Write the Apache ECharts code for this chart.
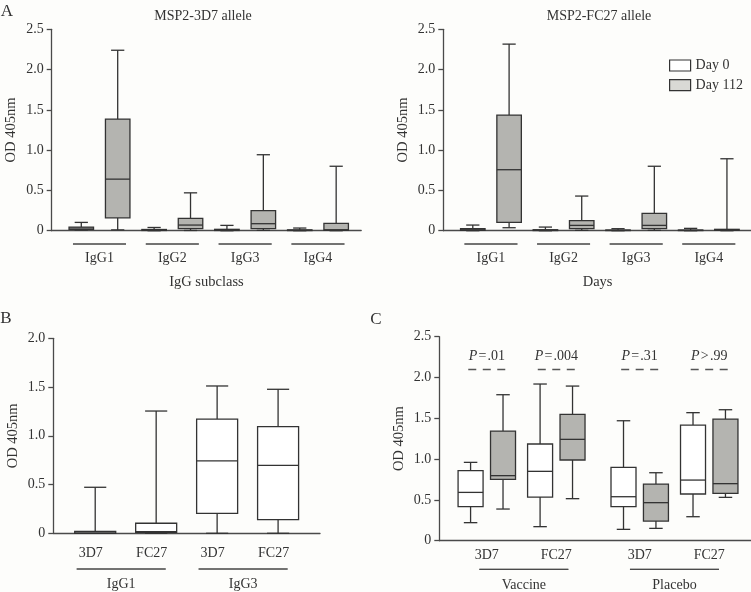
<!DOCTYPE html>
<html>
<head>
<meta charset="utf-8">
<script src="https://cdn.jsdelivr.net/npm/echarts@6/dist/echarts.min.js"></script>
<style>html,body{margin:0;padding:0;background:#fdfdfb;}#c{width:751px;height:592px;}</style>
</head>
<body>
<div id="c"></div>
<script>
// ---------------- DATA (each box: [min, Q1, median, Q3, max]) ----------------
const igGroups = ['IgG1', 'IgG2', 'IgG3', 'IgG4'];
const yTicksA = [0, 0.5, 1.0, 1.5, 2.0, 2.5];
const a3d7Day0 = [[0.008, 0.017, 0.033, 0.045, 0.103], [0, 0.003, 0.008, 0.015, 0.04], [0, 0.003, 0.01, 0.017, 0.066], [0, 0.002, 0.005, 0.01, 0.033]];
const a3d7Day112 = [[0.01, 0.16, 0.64, 1.385, 2.24], [0.003, 0.025, 0.07, 0.153, 0.47], [0.004, 0.025, 0.087, 0.248, 0.943], [0, 0.004, 0.012, 0.09, 0.80]];
const aFc27Day0 = [[0, 0.004, 0.012, 0.025, 0.07], [0, 0.002, 0.006, 0.012, 0.045], [0, 0.002, 0.004, 0.008, 0.025], [0, 0.002, 0.004, 0.008, 0.029]];
const aFc27Day112 = [[0.037, 0.103, 0.757, 1.435, 2.316], [0.004, 0.025, 0.066, 0.124, 0.43], [0.004, 0.025, 0.066, 0.215, 0.80], [0, 0.004, 0.012, 0.017, 0.893]];

const bAlleles = ['3D7', 'FC27', '3D7', 'FC27'];
const bSubclasses = ['IgG1', 'IgG3'];
const bValues = [[0, 0, 0.005, 0.02, 0.472], [0, 0.01, 0.016, 0.103, 1.254], [0, 0.205, 0.742, 1.172, 1.511], [0, 0.14, 0.697, 1.094, 1.477]];

const cAlleles = ['3D7', 'FC27', '3D7', 'FC27'];
const cGroups = ['Vaccine', 'Placebo'];
const cDay0 = [[0.221, 0.417, 0.592, 0.858, 0.96], [0.172, 0.535, 0.85, 1.185, 1.92], [0.139, 0.417, 0.539, 0.899, 1.47], [0.294, 0.572, 0.743, 1.417, 1.569]];
const cDay112 = [[0.388, 0.752, 0.797, 1.344, 1.789], [0.515, 0.989, 1.242, 1.548, 1.895], [0.151, 0.241, 0.466, 0.694, 0.833], [0.531, 0.58, 0.699, 1.491, 1.605]];
const cPRelation = ['=', '=', '=', '>'];
const cPValue = ['.01', '.004', '.31', '.99'];
const cPLevel = 2.1;

const seriesNames = ['Day 0', 'Day 112'];

// ---------------- LAYOUT (slot positions on fine category axes) ----------------
const FONT = '"Liberation Serif", "Times New Roman", serif';
const TXT = '#333';
const AX = '#4a4a4a';
const STROKE = '#333';
const GREY = '#b4b4b0';
const LEGEND_GREY = '#d9d9d5';

const layA = { n: 68, day0: [6, 22, 38, 54], day112: [14, 30, 46, 62], groups: [10, 26, 42, 58] };
const layB = { n: 35, boxes: [5, 13, 21, 29], groups: [9, 25] };
const layC = { n: 135, day0: [13, 43, 79, 109], day112: [27, 57, 93, 123], subs: [20, 50, 86, 116], groups: [36, 101] };

function slotNames(n) { const a = []; for (let i = 0; i < n; i++) a.push(String(i)); return a; }
function toItems(vals, slots) { return vals.map((v, i) => [slots[i]].concat(v)); }

function boxRenderer(boxW, fill) {
  return function (params, api) {
    const x = api.value(0);
    const p = [1, 2, 3, 4, 5].map(i => api.coord([x, api.value(i)]));
    const cx = p[0][0];
    const half = boxW / 2, capHalf = boxW * 0.27;
    const st = { stroke: STROKE, lineWidth: 1.3, fill: null };
    return {
      type: 'group', children: [
        { type: 'line', shape: { x1: cx, y1: p[0][1], x2: cx, y2: p[1][1] }, style: st },
        { type: 'line', shape: { x1: cx, y1: p[3][1], x2: cx, y2: p[4][1] }, style: st },
        { type: 'line', shape: { x1: cx - capHalf, y1: p[0][1], x2: cx + capHalf, y2: p[0][1] }, style: st },
        { type: 'line', shape: { x1: cx - capHalf, y1: p[4][1], x2: cx + capHalf, y2: p[4][1] }, style: st },
        { type: 'rect', shape: { x: cx - half, y: p[3][1], width: boxW, height: p[1][1] - p[3][1] }, style: { fill: fill, stroke: STROKE, lineWidth: 1.3 } },
        { type: 'line', shape: { x1: cx - half, y1: p[2][1], x2: cx + half, y2: p[2][1] }, style: st }
      ]
    };
  };
}

function yAxisCfg(gridIndex, max) {
  return {
    type: 'value', gridIndex: gridIndex, min: 0, max: max, interval: 0.5,
    name: 'OD 405nm', nameLocation: 'middle', nameGap: 33,
    nameTextStyle: { fontFamily: FONT, fontSize: 14.5, color: TXT },
    splitLine: { show: false },
    axisLine: { show: true, lineStyle: { color: AX, width: 1.3 } },
    axisTick: { show: true, length: 5, lineStyle: { color: AX, width: 1.3 } },
    axisLabel: { margin: 8, fontFamily: FONT, fontSize: 14, color: TXT, formatter: v => v === 0 ? '0' : v.toFixed(1) }
  };
}

function xAxisCfg(gridIndex, n, labelMap, rich, margin, name, extra) {
  const cfg = {
    type: 'category', gridIndex: gridIndex, data: slotNames(n), boundaryGap: true,
    axisTick: { show: false },
    axisLine: { show: true, lineStyle: { color: AX, width: 1.3 } },
    splitLine: { show: false },
    axisLabel: Object.assign({ interval: 0, margin: margin, fontFamily: FONT, fontSize: 14, color: TXT, rich: rich,
      formatter: (v, i) => labelMap[i] || '' }, extra || {})
  };
  if (name) {
    cfg.name = name; cfg.nameLocation = 'middle'; cfg.nameGap = 44;
    cfg.nameTextStyle = { fontFamily: FONT, fontSize: 14.5, color: TXT };
  }
  return cfg;
}

// Label maps
const richA = {
  hr: { width: 53, height: 0, lineHeight: 4, borderColor: '#444', borderWidth: 1 },
  g: { fontFamily: FONT, fontSize: 14, color: TXT, lineHeight: 25.4 }
};
const labelsA = {};
layA.groups.forEach((s, i) => { labelsA[s] = '{hr|}\n{g|' + igGroups[i] + '}'; });

const richB = {
  s: { fontFamily: FONT, fontSize: 14, color: TXT, lineHeight: 16 },
  hr: { width: 89, height: 0, lineHeight: 15.4, borderColor: '#444', borderWidth: 1 },
  g: { fontFamily: FONT, fontSize: 14, color: TXT, lineHeight: 14.6 }
};
const labelsB = {};
layB.boxes.forEach((s, i) => { labelsB[s] = '{s|' + bAlleles[i] + '}'; });
layB.groups.forEach((s, i) => { labelsB[s] = '{s| }\n{hr|}\n{g|' + bSubclasses[i] + '}'; });

const richC = {
  s: { fontFamily: FONT, fontSize: 14, color: TXT, lineHeight: 16 },
  hr: { width: 89, height: 0, lineHeight: 12.6, borderColor: '#444', borderWidth: 1 },
  g: { fontFamily: FONT, fontSize: 14, color: TXT, lineHeight: 18.8 }
};
const labelsC = {};
layC.subs.forEach((s, i) => { labelsC[s] = '{s|' + cAlleles[i] + '}'; });
layC.groups.forEach((s, i) => { labelsC[s] = '{s| }\n{hr|}\n{g|' + cGroups[i] + '}'; });

// P-value marklines
const pLines = layC.subs.map((s, i) => [
  { coord: [s - 8, cPLevel], label: { formatter: '{i|P}\u200a' + cPRelation[i] + '\u200a' + cPValue[i] } },
  { coord: [s + 8, cPLevel] }
]);

const chart = echarts.init(document.getElementById('c'), null, { renderer: 'canvas' });
chart.setOption({
  backgroundColor: '#fdfdfb',
  animation: false,
  grid: [
    { left: 51.7, top: 29.3, width: 309.5, height: 201.4, outerBoundsMode: 'none' },
    { left: 443.3, top: 29.3, width: 308.6, height: 201.4, outerBoundsMode: 'none' },
    { left: 53.3, top: 338.3, width: 266.7, height: 195, outerBoundsMode: 'none' },
    { left: 439.3, top: 336.7, width: 312.8, height: 204, outerBoundsMode: 'none' }
  ],
  xAxis: [
    xAxisCfg(0, layA.n, labelsA, richA, 11.3, 'IgG subclass'),
    xAxisCfg(1, layA.n, labelsA, richA, 11.3, 'Days'),
    xAxisCfg(2, layB.n, labelsB, richB, 12, null, { padding: [0, 9, 0, 0] }),
    xAxisCfg(3, layC.n, labelsC, richC, 6.3, null)
  ],
  yAxis: [yAxisCfg(0, 2.5), yAxisCfg(1, 2.5), yAxisCfg(2, 2.0), yAxisCfg(3, 2.5)],
  legend: {
    orient: 'vertical', left: 669, top: 58.5, padding: 0, itemWidth: 21, itemHeight: 11, itemGap: 5.7,
    textStyle: { fontFamily: FONT, fontSize: 14, color: TXT, lineHeight: 14 },
    data: [
      { name: seriesNames[0], icon: 'rect', itemStyle: { color: '#fff', borderColor: STROKE, borderWidth: 1.2 } },
      { name: seriesNames[1], icon: 'rect', itemStyle: { color: LEGEND_GREY, borderColor: STROKE, borderWidth: 1.2 } }
    ],
    selectedMode: false
  },
  graphic: [
    { type: 'text', x: 7, y: 12, style: { text: 'A', fontFamily: FONT, fontSize: 17, fill: TXT, align: 'center', verticalAlign: 'middle' } },
    { type: 'text', x: 6, y: 319, style: { text: 'B', fontFamily: FONT, fontSize: 17, fill: TXT, align: 'center', verticalAlign: 'middle' } },
    { type: 'text', x: 376, y: 319.5, style: { text: 'C', fontFamily: FONT, fontSize: 17, fill: TXT, align: 'center', verticalAlign: 'middle' } },
    { type: 'text', x: 203, y: 16, style: { text: 'MSP2-3D7 allele', fontFamily: FONT, fontSize: 14, fill: TXT, align: 'center', verticalAlign: 'middle' } },
    { type: 'text', x: 599, y: 16, style: { text: 'MSP2-FC27 allele', fontFamily: FONT, fontSize: 14, fill: TXT, align: 'center', verticalAlign: 'middle' } }
  ],
  series: [
    { type: 'custom', name: seriesNames[0], xAxisIndex: 0, yAxisIndex: 0, itemStyle: { color: '#fff' }, renderItem: boxRenderer(24.5, '#fff'), data: toItems(a3d7Day0, layA.day0), clip: false },
    { type: 'custom', name: seriesNames[1], xAxisIndex: 0, yAxisIndex: 0, itemStyle: { color: GREY }, renderItem: boxRenderer(24.5, GREY), data: toItems(a3d7Day112, layA.day112), clip: false },
    { type: 'custom', name: seriesNames[0], xAxisIndex: 1, yAxisIndex: 1, itemStyle: { color: '#fff' }, renderItem: boxRenderer(24.5, '#fff'), data: toItems(aFc27Day0, layA.day0), clip: false },
    { type: 'custom', name: seriesNames[1], xAxisIndex: 1, yAxisIndex: 1, itemStyle: { color: GREY }, renderItem: boxRenderer(24.5, GREY), data: toItems(aFc27Day112, layA.day112), clip: false },
    { type: 'custom', name: 'Panel B', xAxisIndex: 2, yAxisIndex: 2, itemStyle: { color: '#fff' }, renderItem: boxRenderer(41, '#fff'), data: toItems(bValues, layB.boxes), clip: false },
    { type: 'custom', name: seriesNames[0], xAxisIndex: 3, yAxisIndex: 3, itemStyle: { color: '#fff' }, renderItem: boxRenderer(25, '#fff'), data: toItems(cDay0, layC.day0), clip: false,
      markLine: {
        silent: true, symbol: 'none', animation: false,
        lineStyle: { color: '#555', width: 1.3, type: [8, 6.5] },
        label: { show: true, position: 'insideMiddleTop', distance: 6, fontFamily: FONT, fontSize: 14, color: TXT,
          rich: { i: { fontFamily: FONT, fontSize: 14, color: TXT, fontStyle: 'italic' } } },
        emphasis: { disabled: true },
        data: pLines
      }
    },
    { type: 'custom', name: seriesNames[1], xAxisIndex: 3, yAxisIndex: 3, itemStyle: { color: GREY }, renderItem: boxRenderer(25, GREY), data: toItems(cDay112, layC.day112), clip: false }
  ]
});
</script>
</body>
</html>
